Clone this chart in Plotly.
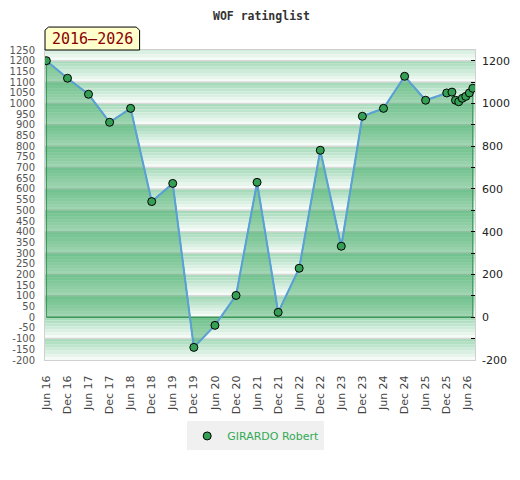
import plotly.graph_objects as go

# rating history
dates = ["2016-06-01", "2016-12-01", "2017-06-01", "2017-12-01", "2018-06-01",
         "2018-12-01", "2019-06-01", "2019-12-01", "2020-06-01", "2020-12-01",
         "2021-06-01", "2021-12-01", "2022-06-01", "2022-12-01", "2023-06-01",
         "2023-12-01", "2024-06-01", "2024-12-01", "2025-06-01", "2025-12-01",
         "2026-01-15", "2026-02-15", "2026-03-15", "2026-04-15", "2026-05-15",
         "2026-06-15", "2026-07-15"]
rating = [1200, 1118, 1043, 912, 977, 541, 626, -141, -38, 102,
          631, 23, 229, 781, 332, 940, 977, 1127, 1015, 1049,
          1053, 1015, 1008, 1024, 1033, 1049, 1071]

tick_dates = ["2016-06-01", "2016-12-01", "2017-06-01", "2017-12-01", "2018-06-01",
              "2018-12-01", "2019-06-01", "2019-12-01", "2020-06-01", "2020-12-01",
              "2021-06-01", "2021-12-01", "2022-06-01", "2022-12-01", "2023-06-01",
              "2023-12-01", "2024-06-01", "2024-12-01", "2025-06-01", "2025-12-01",
              "2026-06-01"]
tick_text = ["Jun 16", "Dec 16", "Jun 17", "Dec 17", "Jun 18", "Dec 18", "Jun 19",
             "Dec 19", "Jun 20", "Dec 20", "Jun 21", "Dec 21", "Jun 22", "Dec 22",
             "Jun 23", "Dec 23", "Jun 24", "Dec 24", "Jun 25", "Dec 25", "Jun 26"]
left_ticks = list(range(-200, 1300, 50))
left_text = [str(v) for v in left_ticks]   # plain hyphen minus, like the original
right_ticks = list(range(-200, 1300, 200))
right_text = [str(v) for v in right_ticks]

player = "GIRARDO Robert"
period = "2016–2026"
y_min, y_max = -200, 1250

fig = go.Figure()

# striped background, one gradient band per 100 points
shapes = []
top_c = (166, 219, 186)
bot_c = (245, 251, 247)
steps = 7
for lo in range(-300, 1300, 100):
    for i in range(steps):
        y1 = lo + 100 - i * 100 / steps
        y0 = lo + 100 - (i + 1) * 100 / steps
        y0c, y1c = max(y0, y_min), min(y1, y_max)
        if y1c <= y0c:
            continue
        t = i / (steps - 1)
        c = tuple(int(top_c[k] + (bot_c[k] - top_c[k]) * t) for k in range(3))
        shapes.append(dict(type="rect", xref="paper", yref="y", x0=0, x1=1,
                           y0=y0c, y1=y1c, fillcolor="rgb(%d,%d,%d)" % c,
                           line_width=0, layer="below"))
    if y_min < lo < y_max:
        shapes.append(dict(type="line", xref="paper", yref="y", x0=0, x1=1,
                           y0=lo, y1=lo, line=dict(color="#d8d8d8", width=1.5),
                           layer="below"))

# label box top left
shapes.append(dict(type="path", xref="paper", yref="paper",
                   path="M 0,1 L 0,1.064 L 0.008,1.074 L 0.212,1.074 L 0.220,1.064 L 0.220,1 Z",
                   fillcolor="#ffffcc", line=dict(color="black", width=1)))

# filled area down to zero
fig.add_trace(go.Scatter(x=[dates[0]] + dates + [dates[-1], dates[0]],
                         y=[0] + rating + [0, 0],
                         fill="toself", fillcolor="rgba(40,160,80,0.42)",
                         mode="lines", line=dict(color="#3d9a5c", width=1.3),
                         hoverinfo="skip", showlegend=False))
fig.add_trace(go.Scatter(x=dates, y=rating, mode="lines",
                         line=dict(color="#5ba0d8", width=2),
                         showlegend=False))
fig.add_trace(go.Scatter(x=dates, y=rating, mode="markers", name=player,
                         marker=dict(size=8, color="#35a055",
                                     line=dict(color="black", width=1))))
# keeps right axis alive
fig.add_trace(go.Scatter(x=dates, y=rating, yaxis="y2", mode="lines",
                         line=dict(width=0), hoverinfo="skip", showlegend=False))

# page body has an 8px margin, so the figure is shifted by that
fig.update_layout(
    width=512, height=472,
    margin=dict(l=37, r=45, t=42, b=120),
    paper_bgcolor="white", plot_bgcolor="white",
    font=dict(family="DejaVu Sans", size=11, color="#444"),
    title=dict(text="<b>WOF ratinglist</b>", x=0.495, xanchor="center",
               y=0.984, yanchor="middle",
               font=dict(family="DejaVu Sans Mono", size=11.5, color="#333")),
    shapes=shapes,
    annotations=[dict(text=period, xref="paper", yref="paper", x=0.11, y=1.037,
                      showarrow=False, xanchor="center", yanchor="middle",
                      font=dict(family="DejaVu Sans Mono", size=15, color="#8b0000"))],
    xaxis=dict(type="date", range=["2016-05-20", "2026-08-03"],
               tickvals=tick_dates, ticktext=tick_text, tickangle=-90,
               showgrid=False, zeroline=False, ticks="", automargin=False,
               ticklabelstandoff=10,
               showline=True, linecolor="#d0d0d0", mirror=True,
               tickfont=dict(size=11, color="#444")),
    yaxis=dict(range=[y_min, y_max], tickvals=left_ticks, ticktext=left_text,
               showgrid=False, zeroline=False, ticks="", ticklabelstandoff=7,
               automargin=False,
               showline=True, linecolor="#d0d0d0", mirror=True,
               tickfont=dict(size=10, color="#555")),
    yaxis2=dict(range=[y_min, y_max], tickvals=right_ticks, ticktext=right_text,
                overlaying="y",
                side="right", showgrid=False, zeroline=False, automargin=False,
                ticks="inside", ticklen=4, tickcolor="black",
                minor=dict(dtick=100, ticks="inside", ticklen=4, tickcolor="black"),
                ticklabelstandoff=6, tickfont=dict(size=11, color="#222")),
    legend=dict(orientation="h", x=0.49, xanchor="center", y=-0.245,
                yanchor="middle", bgcolor="#f0f0f0",
                font=dict(size=11, color="#33aa55")),
)

fig.write_html("out.html")
